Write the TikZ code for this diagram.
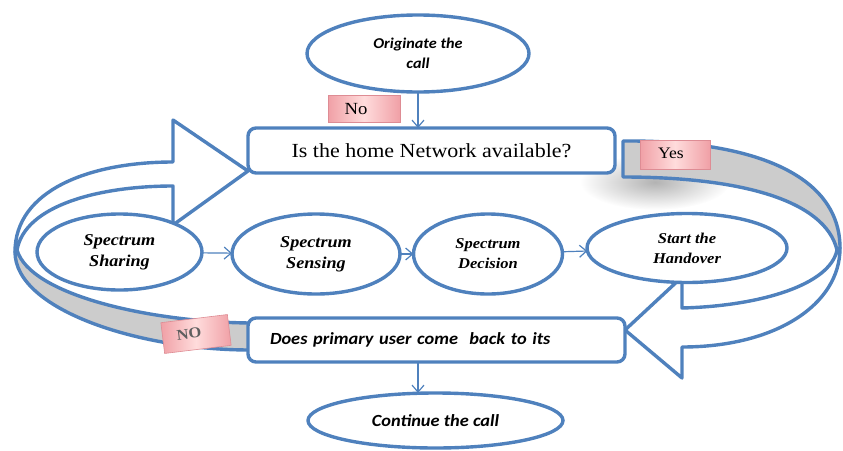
\documentclass[tikz,border=0pt]{standalone}
\usepackage{fontspec}
\setmainfont{Liberation Serif}
\newfontfamily\cambria[FakeStretch=1.1]{Liberation Serif}
\newfontfamily\calibri[FakeStretch=1.08]{Carlito}
\usetikzlibrary{shapes.geometric,arrows.meta}
\definecolor{ublue}{RGB}{79,129,189}
\definecolor{ugray}{RGB}{204,204,204}
\definecolor{tagA}{RGB}{255,220,220}
\definecolor{tagB}{RGB}{240,160,166}
\definecolor{tagE}{RGB}{222,140,148}
\definecolor{notext}{RGB}{95,95,95}
\begin{document}
\begin{tikzpicture}[x=1pt,y=-1pt,
  bandline/.style={draw=ublue,line width=3.4pt,line join=round},
  oval/.style={ellipse,draw=ublue,line width=3.4pt,fill=white,inner sep=0pt,outer sep=0pt,align=center},
  qbox/.style={rectangle,rounded corners=8pt,draw=ublue,line width=3.4pt,fill=white,inner sep=0pt,outer sep=0pt},
  spec/.style={font=\cambria\bfseries\itshape\fontsize{16.5}{21}\selectfont},
  specs/.style={font=\cambria\bfseries\itshape\fontsize{15}{20}\selectfont},
  sans/.style={font=\calibri\bfseries\itshape\fontsize{17}{20}\selectfont},
  pinktag/.style={rectangle,draw=tagE,line width=0.6pt,shading=axis,left color=tagB,right color=tagB,middle color=tagA,inner sep=0pt,outer sep=0pt},
  conn/.style={draw=ublue,line width=1.2pt,-{Straight Barb[length=7pt,width=12pt,line width=1.2pt]}},
]
\useasboundingbox (0,0) rectangle (843,450);

% soft shadow under the "Yes" band tail
\shade[inner color=black!30,outer color=white] (655,182) ellipse (75 and 28);

% right curved arrow ("Yes")
\path[bandline,fill=ugray] (623,141) .. controls (760,140) and (840,178) .. (840,248)
  -- (837,250) .. controls (825,200) and (740,177) .. (623,177) -- cycle;
\path[bandline,fill=white] (840,248) .. controls (840,305) and (775,347) .. (682,347)
  -- (682,378) -- (625,330) -- (682,277) -- (682,308)
  .. controls (760,306) and (830,285) .. (837,250) -- cycle;

% left curved arrow ("NO")
\path[bandline,fill=ugray] (17,250) .. controls (30,295) and (150,322) .. (250,323)
  -- (250,350) .. controls (140,350) and (15,310) .. (15,252) -- cycle;
\path[bandline,fill=white] (15,252) .. controls (15,190) and (90,162) .. (173,162)
  -- (173,120) -- (248,171) -- (173,225) -- (173,186)
  .. controls (100,186) and (25,205) .. (17,250) -- cycle;

% nodes
\node[oval,minimum width=222,minimum height=77,font=\calibri\bfseries\itshape\fontsize{15}{20}\selectfont] (orig) at (418,53.5) {Originate the\\call};
\node[qbox,minimum width=367,minimum height=45,font=\cambria\fontsize{20}{24}\selectfont] (q1) at (431.5,150.5) {Is the home Network available?};
\node[oval,minimum width=165,minimum height=76,spec] (ssh) at (119.5,252) {Spectrum\\Sharing};
\node[oval,minimum width=168,minimum height=80,spec] (sse) at (316,254) {Spectrum\\Sensing};
\node[oval,minimum width=149,minimum height=80,specs] (sde) at (488,254) {Spectrum\\Decision};
\node[oval,minimum width=200,minimum height=69,specs] (sho) at (687,248) {Start the\\Handover};
\node[qbox,minimum height=44,text width=333pt,inner xsep=22pt,align=left,sans] (q2) at (436.5,340) {Does primary user come\ \ back to its};
\node[oval,minimum width=255,minimum height=55,sans] (cont) at (435.5,420.5) {Continue the call};

% tags
\node[pinktag,minimum width=72,minimum height=27] (notag) at (364,108.5) {};
\node[font=\cambria\fontsize{17}{20}\selectfont,inner sep=0pt] (notxt) at (356,109) {No};
\node[pinktag,minimum width=70,minimum height=29] (yestag) at (675,154.5) {};
\node[font=\cambria\fontsize{16}{20}\selectfont,inner sep=0pt] (yestxt) at (671,153) {Yes};
\node[pinktag,minimum width=67,minimum height=31,rotate=7] (NOtag) at (196,334) {};
\node[font=\cambria\bfseries\fontsize{15}{18}\selectfont,text=notext,inner sep=0pt,rotate=7] (NOtxt) at (189,334) {NO};

% connectors
\draw[conn] (orig.south) -- (orig.south |- q1.north);
\draw[conn] (ssh) -- (sse);
\draw[conn] (sse) -- (sde);
\draw[conn] (sde) -- (sho);
\draw[conn] (q2.south -| orig.south) -- (cont.north -| orig.south);
\end{tikzpicture}
\end{document}
